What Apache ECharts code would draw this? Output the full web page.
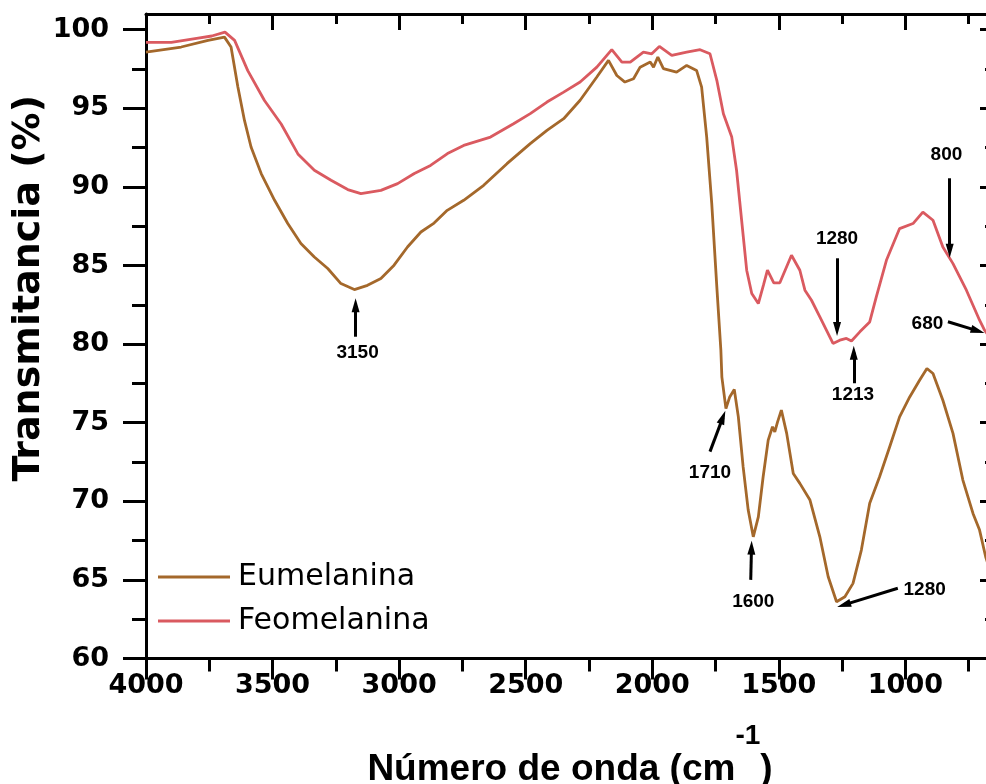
<!DOCTYPE html>
<html>
<head>
<meta charset="utf-8">
<script src="https://cdn.jsdelivr.net/npm/echarts@6.0.0/dist/echarts.min.js"></script>
<style>html,body{margin:0;padding:0;background:#fff}#c{width:986px;height:784px}</style>
</head>
<body>
<div id="c"></div>
<script>
// ---- Data ----
const eumX = [4000,3861,3755,3690,3664,3637,3611,3585,3545,3492,3440,3388,3335,3282,3230,3177,3125,3072,3020,2967,2914,2862,2810,2745,2666,2574,2482,2416,2350,2285,2219,2173,2140,2108,2074,2048,2008,1995,1978,1956,1904,1864,1825,1805,1785,1765,1745,1729,1725,1709,1694,1676,1660,1641,1621,1601,1581,1562,1542,1525,1516,1505,1490,1469,1443,1417,1377,1338,1305,1272,1239,1207,1174,1141,1102,1062,1023,983,944,915,891,852,812,773,733,707,683,660];
const eumY = [98.58,98.9,99.32,99.53,98.9,96.35,94.23,92.54,90.85,89.15,87.67,86.40,85.54,84.81,83.85,83.47,83.74,84.17,85.02,86.18,87.13,87.7,88.51,89.15,90.10,91.48,92.75,93.60,94.34,95.51,96.99,98.05,97.09,96.67,96.88,97.62,97.94,97.62,98.26,97.52,97.30,97.73,97.41,96.35,93.17,88.94,83.64,79.61,77.9,75.9,76.64,77.11,75.37,72.19,69.44,67.74,69.01,71.56,73.89,74.74,74.42,75.05,75.80,74.32,71.77,71.14,70.08,67.74,65.20,63.61,63.93,64.78,66.90,69.87,71.56,73.47,75.37,76.64,77.70,78.45,78.13,76.43,74.32,71.35,69.23,68.17,66.47,65.3];

const feoX = [4000,3900,3800,3740,3688,3650,3598,3532,3466,3400,3335,3269,3203,3151,3072,3006,2940,2876,2809,2745,2639,2548,2482,2416,2350,2285,2219,2160,2120,2087,2035,2002,1972,1923,1864,1811,1772,1745,1719,1686,1667,1647,1627,1607,1581,1560,1545,1520,1496,1450,1417,1397,1371,1338,1286,1259,1233,1213,1180,1141,1115,1075,1023,970,931,891,852,812,759,707,687,660];
const feoY = [99.2,99.2,99.45,99.6,99.85,99.32,97.4,95.5,94.0,92.1,91.06,90.42,89.83,89.57,89.78,90.21,90.85,91.37,92.12,92.64,93.17,94.02,94.66,95.40,96.03,96.67,97.62,98.73,97.94,97.94,98.58,98.47,98.94,98.37,98.58,98.73,98.47,96.78,94.66,93.17,91.06,87.88,84.70,83.22,82.58,83.8,84.7,83.9,83.9,85.65,84.70,83.43,82.79,81.73,80.04,80.25,80.36,80.20,80.78,81.41,83.0,85.33,87.35,87.67,88.40,87.88,86.18,85.12,83.43,81.52,80.88,80.3];

const seriesNames = ['Eumelanina', 'Feomelanina'];

const xMajorTicks = [1000,1500,2000,2500,3000,3500,4000];
const xMinorTicks = [750,1250,1750,2250,2750,3250,3750];
const yMajorTicks = [60,65,70,75,80,85,90,95,100];
const yMinorTicks = [62.5,67.5,72.5,77.5,82.5,87.5,92.5,97.5];

// annotations (data coordinates)
const annoText   = ['3150','1710','1600','1280','1213','1280','800','680'];
const annoLabelX = [3164, 1772, 1601, 924, 1207, 1270, 838, 913];
const annoLabelY = [79.43, 71.82, 63.61, 64.40, 76.76, 86.67, 92.03, 81.32];
const arrowFromX = [3172, 1772, 1611, 1030, 1204, 1270, 825, 832];
const arrowFromY = [80.47, 73.16, 65.0, 64.47, 77.51, 85.46, 90.55, 81.42];
const arrowToX   = [3172, 1721, 1608, 1243, 1204, 1270, 825, 714];
const arrowToY   = [82.47, 75.34, 67.05, 63.41, 79.45, 80.96, 85.94, 80.84];

// ---- Chart ----
const X_MIN = 650, X_MAX = 4000, Y_MIN = 60, Y_MAX = 101;
const COL_EU = '#A4682B', COL_FEO = '#DA5A60';
const tickFont = { fontFamily: 'DejaVu Sans', fontWeight: 'bold', fontSize: 27, color: '#000' };

function xAx(pos, ticks, len, inside, showLine, labels) {
  return {
    type: 'value', inverse: true, min: X_MIN, max: X_MAX, position: pos,
    axisLine: { show: showLine, onZero: false, lineStyle: { color: '#000', width: 3 } },
    axisTick: { show: true, inside: inside, length: len, customValues: ticks, lineStyle: { color: '#000', width: 3 } },
    axisLabel: labels ? Object.assign({ show: true, customValues: ticks, margin: 14, formatter: v => String(v) }, tickFont) : { show: false },
    splitLine: { show: false }, minorTick: { show: false }
  };
}
function yAx(pos, ticks, len, inside, showLine, labels) {
  return {
    type: 'value', min: Y_MIN, max: Y_MAX, position: pos,
    axisLine: { show: showLine, onZero: false, lineStyle: { color: '#000', width: 3 } },
    axisTick: { show: true, inside: inside, length: len, customValues: ticks, lineStyle: { color: '#000', width: 3 } },
    axisLabel: labels ? Object.assign({ show: true, customValues: ticks, margin: 37, formatter: v => String(v) }, tickFont) : { show: false },
    splitLine: { show: false }, minorTick: { show: false }
  };
}

const xAxes = [
  xAx('bottom', xMajorTicks, 21, false, true, true),
  xAx('bottom', xMinorTicks, 13, false, false, false),
  xAx('top', xMajorTicks, 16, true, true, false),
  xAx('top', xMinorTicks, 10, true, false, false)
];
xAxes[0].name = '{t|Número de onda (cm}{s|-1}{t|)}';
xAxes[0].nameLocation = 'middle';
xAxes[0].nameGap = 64;
xAxes[0].nameMoveOverlap = false;
xAxes[0].nameTextStyle = {
  rich: {
    t: { fontFamily: 'Liberation Sans', fontWeight: 'bold', fontSize: 37, color: '#000', lineHeight: 66, verticalAlign: 'bottom' },
    s: { fontFamily: 'Liberation Sans', fontWeight: 'bold', fontSize: 28, color: '#000', lineHeight: 28, verticalAlign: 'top' }
  }
};

const yAxes = [
  yAx('left', yMajorTicks, 23, false, true, true),
  yAx('left', yMinorTicks, 14, false, false, false),
  yAx('right', yMajorTicks, 14, true, true, false),
  yAx('right', yMinorTicks, 9, true, false, false)
];
yAxes[0].name = 'Transmitancia (%)';
yAxes[0].nameLocation = 'middle';
yAxes[0].nameGap = 98;
yAxes[0].nameMoveOverlap = false;
yAxes[0].nameTextStyle = { fontFamily: 'DejaVu Sans', fontWeight: 'bold', fontSize: 38, color: '#000', padding: [0, 0, 0, 96] };

function pairs(xs, ys) { return xs.map((x, i) => [x, ys[i]]); }

const markLineData = arrowFromX.map((x, i) => [
  { coord: [x, arrowFromY[i]] },
  { coord: [arrowToX[i], arrowToY[i]] }
]);
const markPointData = annoText.map((t, i) => ({ name: t, coord: [annoLabelX[i], annoLabelY[i]] }));

const option = {
  animation: false,
  backgroundColor: '#fff',
  grid: { left: 146, right: -8, top: 14, bottom: 125.5, containLabel: false, outerBoundsMode: 'none' },
  legend: {
    orient: 'vertical', left: 158, top: 562, padding: 0,
    itemWidth: 72, itemHeight: 3, itemGap: 14, icon: 'rect',
    textStyle: { fontFamily: 'DejaVu Sans', fontSize: 30, color: '#000', lineHeight: 30, padding: [0, 0, 0, 3] },
    data: seriesNames
  },
  xAxis: xAxes,
  yAxis: yAxes,
  series: [
    {
      name: seriesNames[0], type: 'line', xAxisIndex: 0, yAxisIndex: 0,
      data: pairs(eumX, eumY), showSymbol: false, symbol: 'none',
      lineStyle: { color: COL_EU, width: 2.8 }, itemStyle: { color: COL_EU },
      markLine: {
        silent: true, animation: false, symbol: ['none', 'triangle'], symbolSize: [8, 14],
        lineStyle: { color: '#000', width: 3, type: 'solid' },
        itemStyle: { color: '#000' },
        label: { show: false }, emphasis: { disabled: true },
        data: markLineData
      },
      markPoint: {
        silent: true, animation: false, symbol: 'rect', symbolSize: 1,
        itemStyle: { color: 'rgba(0,0,0,0)' },
        label: { show: true, position: 'inside', formatter: p => p.name, fontFamily: 'Liberation Sans', fontWeight: 'bold', fontSize: 19, color: '#000' },
        data: markPointData
      }
    },
    {
      name: seriesNames[1], type: 'line', xAxisIndex: 0, yAxisIndex: 0,
      data: pairs(feoX, feoY), showSymbol: false, symbol: 'none',
      lineStyle: { color: COL_FEO, width: 2.8 }, itemStyle: { color: COL_FEO }
    }
  ]
};

const chart = echarts.init(document.getElementById('c'), null, { renderer: 'canvas' });
chart.setOption(option);
</script>
</body>
</html>
